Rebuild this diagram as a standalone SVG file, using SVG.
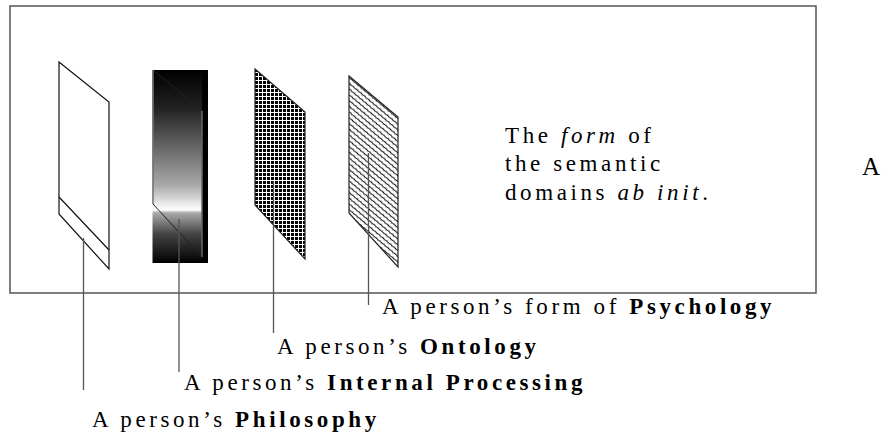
<svg xmlns="http://www.w3.org/2000/svg" width="886" height="434" viewBox="0 0 886 434">
<style>
text{font-family:"Liberation Serif","Times New Roman",serif;font-size:23px;fill:#000;letter-spacing:3.6px}
.b{font-weight:bold}
.i{font-style:italic}
.edge{fill:none;stroke:#111;stroke-width:1.2}
.lead{stroke:#555;stroke-width:1.3;fill:none}
</style>
<defs>
<linearGradient id="grad" x1="0" y1="0" x2="0" y2="1">
<stop offset="0" stop-color="#000"/>
<stop offset="0.2" stop-color="#222"/>
<stop offset="0.45" stop-color="#777"/>
<stop offset="0.6" stop-color="#aaa"/>
<stop offset="0.7" stop-color="#eee"/>
<stop offset="0.725" stop-color="#fff"/>
<stop offset="0.74" stop-color="#aaa"/>
<stop offset="0.85" stop-color="#444"/>
<stop offset="1" stop-color="#000"/>
</linearGradient>
<pattern id="grid" width="4" height="4" patternUnits="userSpaceOnUse" x="255" y="69">
<rect width="4" height="4" fill="#000"/>
<path d="M0,3.5H4M3.5,0V4" stroke="#fff" stroke-width="1"/>
</pattern>
<pattern id="wave" width="5" height="4.4" patternUnits="userSpaceOnUse" patternTransform="rotate(40)">
<rect width="5" height="4.4" fill="#fff"/>
<path d="M0,2.2 Q1.25,1.6 2.5,2.2 T5,2.2" stroke="#000" stroke-width="1" fill="none"/>
</pattern>
</defs>
<rect width="886" height="434" fill="#fff"/>
<rect id="frame" x="10" y="6" width="806" height="287" fill="none" stroke="#555" stroke-width="1.5"/>

<g id="panel-philosophy">
<polygon class="edge" points="59,62 109,102 109,269 59,214" fill="#fff"/>
<line class="edge" x1="59" y1="197" x2="109" y2="250"/>
</g>
<g id="panel-internal">
<rect x="152.5" y="70" width="55.5" height="193" fill="url(#grad)"/>
<rect x="202" y="70" width="6" height="193" fill="#000"/>
<path d="M153,70 L202,111 L202,257 L153,204 Z" fill="none" stroke="#222" stroke-width="1"/>
<line x1="153" y1="70" x2="153" y2="204" stroke="#999" stroke-width="1"/>
<line x1="202" y1="111" x2="202" y2="257" stroke="#888" stroke-width="1"/>
</g>
<g id="panel-ontology">
<polygon points="255,69 305,112 305,259 255,205" fill="url(#grid)" stroke="#222" stroke-width="1.2"/>
</g>
<g id="panel-psychology">
<polygon points="349,76 398,117 398,267 349,213" fill="url(#wave)" stroke="#222" stroke-width="1.2"/>
</g>

<g id="connectors">
<line class="lead" x1="83.5" y1="238" x2="83.5" y2="390"/>
<line class="lead" x1="179" y1="219" x2="179" y2="372"/>
<line class="lead" x1="273.5" y1="181" x2="273.5" y2="333"/>
<line class="lead" x1="368.5" y1="153" x2="368.5" y2="305"/>
</g>

<g id="caption">
<text x="505" y="143">The <tspan class="i">form</tspan> of</text>
<text x="505" y="171">the semantic</text>
<text x="505" y="200">domains <tspan class="i">ab init</tspan>.</text>
</g>
<g id="label-a"><text x="862" y="175" style="letter-spacing:0;font-size:25px">A</text></g>

<g id="label-psychology"><text x="382" y="314">A person’s form of <tspan class="b">Psychology</tspan></text></g>
<g id="label-ontology"><text x="277" y="354">A person’s <tspan class="b">Ontology</tspan></text></g>
<g id="label-internal"><text x="184" y="390">A person’s <tspan class="b">Internal Processing</tspan></text></g>
<g id="label-philosophy"><text x="92" y="427">A person’s <tspan class="b">Philosophy</tspan></text></g>
</svg>
